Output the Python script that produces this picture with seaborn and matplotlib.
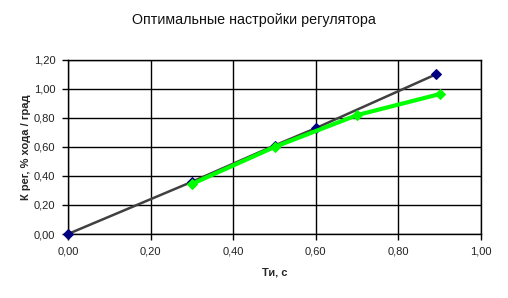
import matplotlib
matplotlib.use("Agg")
import matplotlib.pyplot as plt
import seaborn as sns
import pandas as pd
from matplotlib.ticker import FuncFormatter, MultipleLocator

sns.set_theme(style="white")
plt.rcParams['font.family'] = ['Liberation Sans', 'DejaVu Sans']

title = "Оптимальные настройки регулятора"
xlabel = "Ти, с"
ylabel = "К рег, % хода / град"

dark_x = [0.0, 0.30, 0.50, 0.60, 0.89]
dark_y = [0.0, 0.36, 0.61, 0.73, 1.10]
green_x = [0.30, 0.50, 0.70, 0.90]
green_y = [0.345, 0.60, 0.82, 0.965]

W, H = 508, 298
fig = plt.figure(figsize=(W / 100, H / 100), dpi=100)
ax = fig.add_axes([68 / W, 1 - 234 / H, (481 - 68) / W, (234 - 60) / H])

df_d = pd.DataFrame({"x": dark_x, "y": dark_y})
df_g = pd.DataFrame({"x": green_x, "y": green_y})

sns.lineplot(data=df_d, x="x", y="y", ax=ax, color="#404040", linewidth=1.8,
             marker="D", markersize=5, markerfacecolor="#000080",
             markeredgecolor="#000080", zorder=3, clip_on=False)
sns.lineplot(data=df_g, x="x", y="y", ax=ax, color="#00FF00", linewidth=3.0,
             marker="D", markersize=5, markerfacecolor="#00FF00",
             markeredgecolor="#00FF00", zorder=4, clip_on=False)

ax.set_xlim(0, 1.0)
ax.set_ylim(0, 1.2)
ax.xaxis.set_major_locator(MultipleLocator(0.2))
ax.yaxis.set_major_locator(MultipleLocator(0.2))
fmt = FuncFormatter(lambda v, p: f"{v:.2f}".replace(".", ","))
ax.xaxis.set_major_formatter(fmt)
ax.yaxis.set_major_formatter(fmt)

ax.grid(True, color="black", linewidth=1.0)
for s in ax.spines.values():
    s.set_color("black")
    s.set_linewidth(1.0)
ax.tick_params(axis="both", which="major", direction="out", length=4, width=1,
               color="black", labelsize=8, labelcolor="#222222", pad=5, bottom=True, left=True)

ax.set_xlabel(xlabel, fontsize=8, fontweight="bold", labelpad=8)
ax.set_ylabel(ylabel, fontsize=8, fontweight="bold", labelpad=2)
fig.text(254 / W, 1 - 20 / H, title, ha="center", va="center", fontsize=10.3, color="#111111")

fig.savefig("out.png", dpi=100, facecolor="white")
